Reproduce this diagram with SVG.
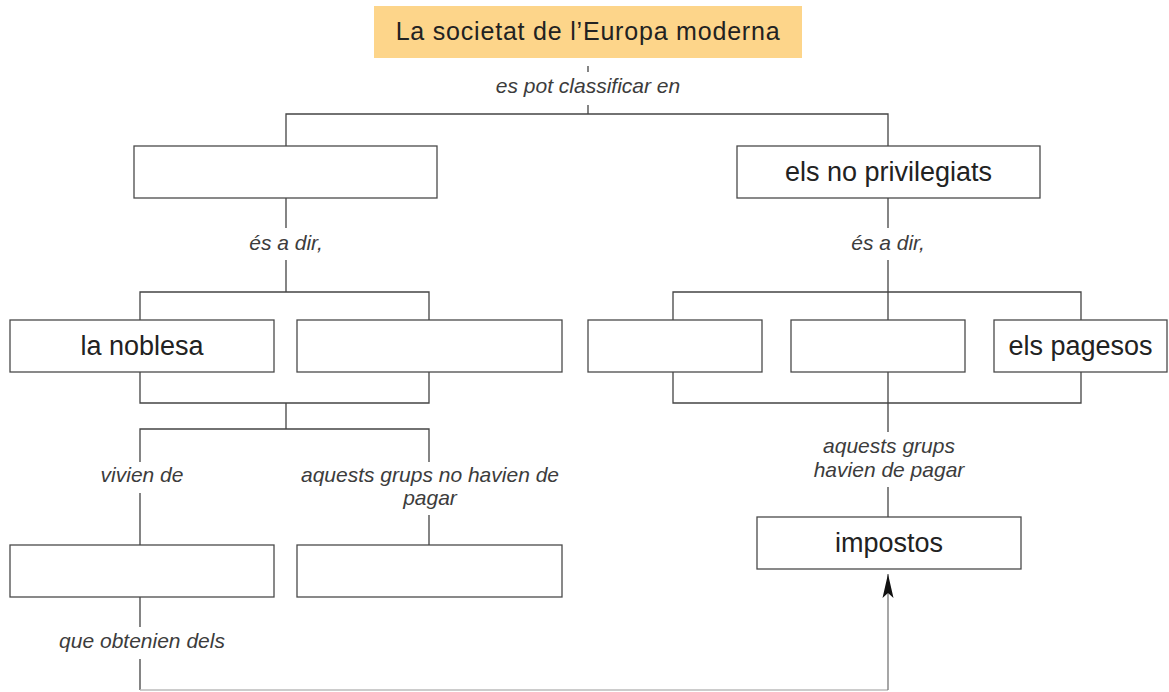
<svg xmlns="http://www.w3.org/2000/svg" width="1169" height="692" viewBox="0 0 1169 692">
<style>
.box{fill:#fff;stroke:#4a4a4a;stroke-width:1.3}
.tbox{fill:#fdd58a;stroke:none}
.t{font-family:"Liberation Sans",Arial,sans-serif;font-size:27px;fill:#222;text-anchor:middle}
.tt{font-family:"Liberation Sans",Arial,sans-serif;font-size:25px;letter-spacing:0.8px;fill:#222;text-anchor:middle}
.lbl{font-family:"Liberation Sans",Arial,sans-serif;font-style:italic;font-size:21px;fill:#3c3c3c;text-anchor:middle}
.ln{fill:none;stroke:#444;stroke-width:1.3}
.lt{fill:none;stroke:#bbb;stroke-width:1.3}
.la{fill:none;stroke:#777;stroke-width:1.3}
</style>
<defs>
<marker id="arrow" viewBox="-25 -6 26 12" refX="0" refY="0" markerWidth="26" markerHeight="12" markerUnits="userSpaceOnUse" orient="auto">
<path d="M0,0 L-24,-5.5 L-19,0 L-24,5.5 Z" fill="#111"/>
</marker>
</defs>
<g id="connectors">
<path class="ln" d="M588,66 V72 M588,105 V114"/>
<path class="ln" d="M286,146 V114 H888 V146"/>
<path class="ln" d="M286,198 V228 M286,260 V292"/>
<path class="ln" d="M140,320 V292 H429 V320"/>
<path class="ln" d="M140,372 V403 H429 V372 M286,403 V429"/>
<path class="ln" d="M140,462 V429 H429 V462"/>
<path class="ln" d="M140,493 V545 M429,515 V545"/>
<path class="ln" d="M140,597 V627 M140,659 V690"/>
<path class="lt" d="M140,690 H888"/>
<path class="la" d="M888,690 V574" marker-end="url(#arrow)"/>
<path class="ln" d="M888,198 V228 M888,260 V292"/>
<path class="ln" d="M673,320 V292 H1081 V320 M888,292 V320"/>
<path class="ln" d="M673,372 V403 H1081 V372 M888,372 V432"/>
<path class="ln" d="M888,487 V517"/>
<text class="lbl" x="588" y="93">es pot classificar en</text>
<text class="lbl" x="286" y="250">és a dir,</text>
<text class="lbl" x="888" y="250">és a dir,</text>
<text class="lbl" x="142" y="482">vivien de</text>
<text class="lbl" x="430" y="482">aquests grups no havien de</text>
<text class="lbl" x="430" y="505">pagar</text>
<text class="lbl" x="142" y="648">que obtenien dels</text>
<text class="lbl" x="889" y="453">aquests grups</text>
<text class="lbl" x="889" y="477">havien de pagar</text>
</g>
<g id="n-title"><rect class="tbox" x="374" y="6" width="428" height="52"/><text class="tt" x="588" y="40">La societat de l’Europa moderna</text></g>
<g id="n-privilegiats"><rect class="box" x="134" y="146" width="303" height="52"/></g>
<g id="n-noprivilegiats"><rect class="box" x="737" y="146" width="303" height="52"/><text class="t" x="888.5" y="181">els no privilegiats</text></g>
<g id="n-noblesa"><rect class="box" x="10" y="320" width="264" height="52"/><text class="t" x="142" y="355">la noblesa</text></g>
<g id="n-clergat"><rect class="box" x="297" y="320" width="265" height="52"/></g>
<g id="n-grup1"><rect class="box" x="588" y="320" width="174" height="52"/></g>
<g id="n-grup2"><rect class="box" x="791" y="320" width="174" height="52"/></g>
<g id="n-pagesos"><rect class="box" x="994" y="320" width="173" height="52"/><text class="t" x="1080.5" y="355">els pagesos</text></g>
<g id="n-rendes"><rect class="box" x="10" y="545" width="264" height="52"/></g>
<g id="n-exempts"><rect class="box" x="297" y="545" width="265" height="52"/></g>
<g id="n-impostos"><rect class="box" x="757" y="517" width="264" height="52"/><text class="t" x="889" y="552">impostos</text></g>
</svg>
